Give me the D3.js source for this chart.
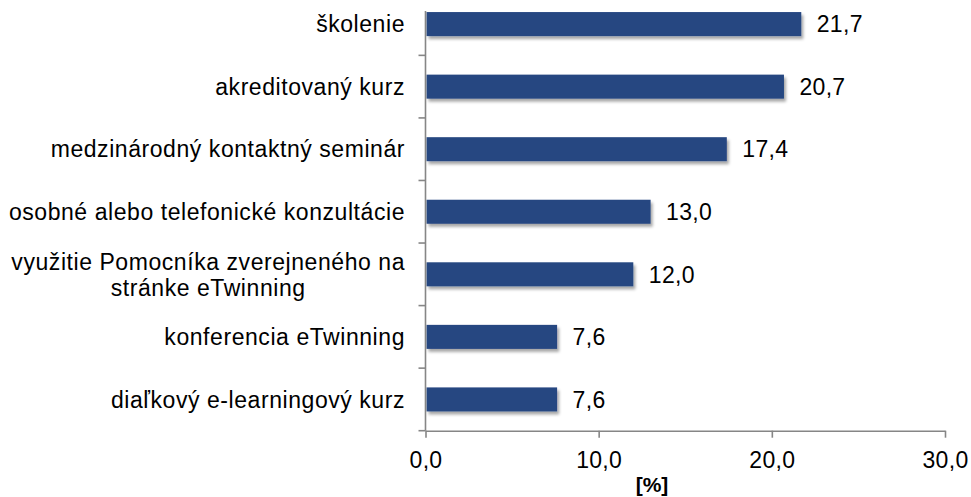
<!DOCTYPE html>
<html>
<head>
<meta charset="utf-8">
<script src="https://cdn.jsdelivr.net/npm/d3@7"></script>
<style>
  html, body { margin: 0; padding: 0; background: #fff; }
  svg { display: block; }
  text { font-family: "Liberation Sans", Arial, sans-serif; fill: #000; }
</style>
</head>
<body>
<svg id="chart" width="971" height="497"></svg>
<script>
// Forms of eTwinning training and the share of respondents [%]
const categories = [
  "školenie",
  "akreditovaný kurz",
  "medzinárodný kontaktný seminár",
  "osobné alebo telefonické konzultácie",
  "využitie Pomocníka zverejneného na|stránke eTwinning",
  "konferencia eTwinning",
  "diaľkový e-learningový kurz"
];
const values = [21.7, 20.7, 17.4, 13.0, 12.0, 7.6, 7.6];
const xTicks = [0, 10, 20, 30];
const xTickLabels = ["0,0", "10,0", "20,0", "30,0"];
const axisTitle = "[%]";

const svg = d3.select("#chart");
const axisColor = "#868686";
const barColor = "#254681";

const plot = { left: 425.5, right: 945, top: -7.2, bottom: 430.7, axisTop: 11 };

const x = d3.scaleLinear().domain([0, 30]).range([plot.left, plot.right]);
const y = d3.scaleBand()
  .domain(categories)
  .range([plot.top, plot.bottom])
  .paddingInner(0.616)
  .paddingOuter(0.308);

const sk = d3.formatLocale({ decimal: ",", thousands: " ", grouping: [3], currency: ["", " €"] });
const fmt = sk.format(".1f");

// soft shadow under the bars
const defs = svg.append("defs");
const f = defs.append("filter").attr("id", "shadow")
  .attr("x", "-5%").attr("y", "-30%").attr("width", "115%").attr("height", "180%");
f.append("feDropShadow").attr("dx", 2).attr("dy", 3).attr("stdDeviation", 1.8)
  .attr("flood-color", "#000").attr("flood-opacity", 0.35);

// bars
svg.append("g").selectAll("rect")
  .data(values)
  .join("rect")
  .attr("x", x(0) + 1)
  .attr("y", (d, i) => y(categories[i]))
  .attr("width", d => x(d) - x(0) - 1)
  .attr("height", y.bandwidth())
  .attr("fill", barColor)
  .attr("filter", "url(#shadow)");

// value labels
svg.append("g").selectAll("text")
  .data(values)
  .join("text")
  .attr("x", d => x(d) + 15.5)
  .attr("y", (d, i) => y(categories[i]) + y.bandwidth() / 2)
  .attr("dy", "0.36em")
  .attr("font-size", 23)
  .attr("letter-spacing", 0.3)
  .text(d => fmt(d));

// x axis
const xAxis = d3.axisBottom(x)
  .tickValues(xTicks)
  .tickFormat((d, i) => xTickLabels[i])
  .tickSize(7)
  .tickSizeOuter(0)
  .tickPadding(14);
const gx = svg.append("g")
  .attr("transform", `translate(0,${plot.bottom})`)
  .call(xAxis);
gx.select(".domain").attr("stroke", axisColor).attr("stroke-width", 1.6);
gx.selectAll(".tick line").attr("stroke", axisColor).attr("stroke-width", 1.6);
gx.selectAll(".tick text")
  .attr("font-size", 23)
  .attr("letter-spacing", 0.3)
  .attr("font-family", "Liberation Sans, Arial, sans-serif")
  .attr("fill", "#000");

// y axis line and tick marks at category boundaries
const gy = svg.append("g");
gy.append("line")
  .attr("x1", plot.left).attr("x2", plot.left)
  .attr("y1", plot.axisTop).attr("y2", plot.bottom)
  .attr("stroke", axisColor).attr("stroke-width", 1.6);
const boundaries = d3.range(1, categories.length + 1).map(i => plot.top + i * y.step());
gy.selectAll("line.tick")
  .data(boundaries)
  .join("line")
  .attr("class", "tick")
  .attr("x1", plot.left - 7).attr("x2", plot.left)
  .attr("y1", d => d).attr("y2", d => d)
  .attr("stroke", axisColor).attr("stroke-width", 1.6);

// category labels (a "|" splits a label onto two centred lines)
const labelRight = plot.left - 20.5;
categories.forEach((c, i) => {
  const lines = c.split("|");
  const cy = y(c) + y.bandwidth() / 2;
  const t = gy.append("text")
    .attr("font-size", 23)
    .attr("letter-spacing", 0.56);
  if (lines.length === 1) {
    t.attr("x", labelRight).attr("y", cy).attr("dy", "0.36em")
      .attr("text-anchor", "end").text(c);
  } else {
    const lh = 26;
    const spans = lines.map((l, k) => t.append("tspan")
      .attr("y", cy + (k - (lines.length - 1) / 2) * lh)
      .attr("dy", "0.36em")
      .text(l));
    const w = d3.max(spans, s => s.node().getComputedTextLength());
    t.attr("text-anchor", "middle");
    spans.forEach(s => s.attr("x", labelRight - w / 2));
  }
});

// axis title
svg.append("text")
  .attr("x", 652)
  .attr("y", 492)
  .attr("text-anchor", "middle")
  .attr("font-size", 21)
  .attr("font-weight", "bold")
  .text(axisTitle);
</script>
</body>
</html>
